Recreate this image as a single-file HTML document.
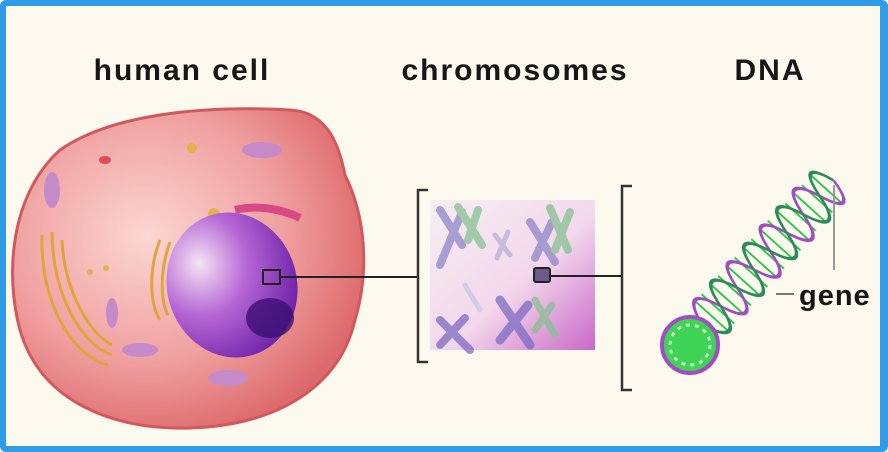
<!DOCTYPE html>
<html><head><style>
html,body{margin:0;padding:0;}
body{width:888px;height:452px;overflow:hidden;background:#fff;}
.f{position:absolute;left:0;top:0;width:888px;height:452px;box-sizing:border-box;border:6px solid #2f9be9;border-right-width:8px;border-radius:6px;background:#fcfaee;}
svg{position:absolute;left:0;top:0;}
text{font-family:"Liberation Sans",Arial,sans-serif;font-weight:bold;fill:#161616;}
</style></head><body>
<div class="f"></div>
<svg width="888" height="452" viewBox="0 0 888 452">
<defs>
<radialGradient id="cg" cx="0.38" cy="0.4" r="0.65">
<stop offset="0" stop-color="#fbd7d3"/><stop offset="0.6" stop-color="#f0a0a0"/><stop offset="1" stop-color="#dd6a6c"/></radialGradient>
<radialGradient id="ng" cx="0.3" cy="0.3" r="0.8">
<stop offset="0" stop-color="#f4e4f4"/><stop offset="0.45" stop-color="#b667d4"/><stop offset="1" stop-color="#6a1ea6"/></radialGradient>
<linearGradient id="chg" x1="0" y1="0" x2="1" y2="1">
<stop offset="0" stop-color="#f7eef2"/><stop offset="0.55" stop-color="#f3d8ec"/><stop offset="1" stop-color="#c968c8"/></linearGradient>
</defs>
<text x="182" y="80" font-size="30" letter-spacing="2" text-anchor="middle">human cell</text>
<text x="515" y="80" font-size="30" letter-spacing="2" text-anchor="middle">chromosomes</text>
<text x="770" y="80" font-size="30" letter-spacing="2" text-anchor="middle">DNA</text>
<!-- cell -->
<path d="M60 150 C110 115 200 105 290 110 C330 112 340 150 345 175 C365 215 370 270 355 320 C340 385 280 425 190 428 C110 430 40 400 20 330 C5 275 10 195 60 150Z" fill="url(#cg)" stroke="#d2585e" stroke-width="3"/>
<g fill="none" stroke="#e0a53a" stroke-width="3">
<path d="M42 235 C40 300 70 355 108 365"/><path d="M52 232 C52 295 82 345 112 355"/><path d="M62 240 C64 290 90 335 112 345"/>
<path d="M160 240 C148 270 150 305 160 320"/><path d="M170 242 C160 270 160 300 168 315"/>
</g>
<g fill="#c48bc8"><ellipse cx="262" cy="150" rx="20" ry="8"/><ellipse cx="52" cy="190" rx="8" ry="18"/><ellipse cx="140" cy="350" rx="18" ry="7"/><ellipse cx="228" cy="378" rx="20" ry="8"/><ellipse cx="112" cy="313" rx="6" ry="15"/><ellipse cx="105" cy="160" rx="6" ry="4" fill="#d9505a"/></g>
<path d="M235 210 C255 205 280 208 300 218" stroke="#d84a86" stroke-width="8" fill="none"/>
<g fill="#e3b24a"><circle cx="192" cy="148" r="5"/><circle cx="214" cy="214" r="6"/><circle cx="90" cy="272" r="3"/><circle cx="106" cy="268" r="3"/></g>
<ellipse cx="232" cy="285" rx="65" ry="73" transform="rotate(-15 232 285)" fill="url(#ng)"/>
<ellipse cx="270" cy="318" rx="24" ry="20" fill="#3a0f72" opacity="0.8"/>
<rect x="263" y="270" width="17" height="14" fill="none" stroke="#222" stroke-width="2"/>
<line x1="280" y1="277" x2="418" y2="277" stroke="#222" stroke-width="2"/>
<path d="M428 190 H418 V362 H428" fill="none" stroke="#333" stroke-width="2.5"/>
<!-- chromosome panel -->
<rect x="430" y="200" width="165" height="150" fill="url(#chg)"/>
<g stroke-linecap="round" opacity="0.75">
<path d="M440 210 L462 245 M462 212 L440 265" stroke="#8d86c9" stroke-width="8"/>
<path d="M458 207 L482 245 M478 210 L468 240" stroke="#85c290" stroke-width="8"/>
<path d="M530 222 L555 262 M552 222 L535 258" stroke="#8d86c9" stroke-width="8"/>
<path d="M550 208 L568 250 M570 212 L555 250" stroke="#85c290" stroke-width="8"/>
<path d="M500 300 L530 345 M528 305 L500 340" stroke="#7c6cc3" stroke-width="9"/>
<path d="M440 320 L470 350 M465 318 L440 345" stroke="#7c6cc3" stroke-width="8"/>
<path d="M535 300 L555 335 M552 305 L535 330" stroke="#85c290" stroke-width="7"/>
<path d="M495 235 L510 255 M508 232 L497 258" stroke="#b7b0dc" stroke-width="5"/>
<path d="M465 285 L480 310" stroke="#c6c9e2" stroke-width="5"/>
</g>
<rect x="534" y="268" width="16" height="14" rx="2" fill="#6b5b8a" stroke="#222" stroke-width="2"/>
<line x1="550" y1="276" x2="622" y2="276" stroke="#222" stroke-width="2"/>
<path d="M632 186 H622 V390 H632" fill="none" stroke="#333" stroke-width="2.5"/>
<!-- DNA -->
<g transform="translate(690 340) rotate(-48) scale(0.95 1.7)">
<g stroke="#2fc64a" stroke-width="2">
<line x1="34" y1="-13" x2="34" y2="13"/><line x1="44" y1="-13" x2="44" y2="13"/><line x1="58" y1="-13" x2="58" y2="13"/><line x1="70" y1="-13" x2="70" y2="13"/><line x1="84" y1="-13" x2="84" y2="13"/><line x1="96" y1="-13" x2="96" y2="13"/><line x1="110" y1="-13" x2="110" y2="13"/><line x1="122" y1="-13" x2="122" y2="13"/><line x1="136" y1="-13" x2="136" y2="13"/><line x1="148" y1="-13" x2="148" y2="13"/><line x1="162" y1="-12" x2="162" y2="12"/><line x1="174" y1="-12" x2="174" y2="12"/><line x1="188" y1="-12" x2="188" y2="12"/><line x1="200" y1="-12" x2="200" y2="12"/><line x1="214" y1="-12" x2="214" y2="12"/>
</g>
<path d="M20 0 C30 -18 40 -18 48 0 S66 18 74 0 S92 -18 100 0 S118 18 126 0 S144 -18 152 0 S170 18 178 0 S196 -18 204 0 S220 16 226 0" fill="none" stroke="#a34bc2" stroke-width="2.5"/>
<path d="M20 0 C30 18 40 18 48 0 S66 -18 74 0 S92 18 100 0 S118 -18 126 0 S144 18 152 0 S170 -18 178 0 S196 18 204 0 S220 -16 226 0" fill="none" stroke="#2f8a5a" stroke-width="2.5"/>
</g>
<circle cx="690" cy="345" r="28" fill="#3fd455" stroke="#a34bc2" stroke-width="4"/>
<circle cx="690" cy="345" r="20" fill="none" stroke="#c8f0c8" stroke-width="3" stroke-dasharray="4 5"/>
<line x1="834" y1="185" x2="834" y2="270" stroke="#999" stroke-width="2"/>
<line x1="776" y1="294" x2="794" y2="294" stroke="#777" stroke-width="2"/>
<text x="799" y="305" font-size="29" letter-spacing="1">gene</text>
</svg>
</body></html>
